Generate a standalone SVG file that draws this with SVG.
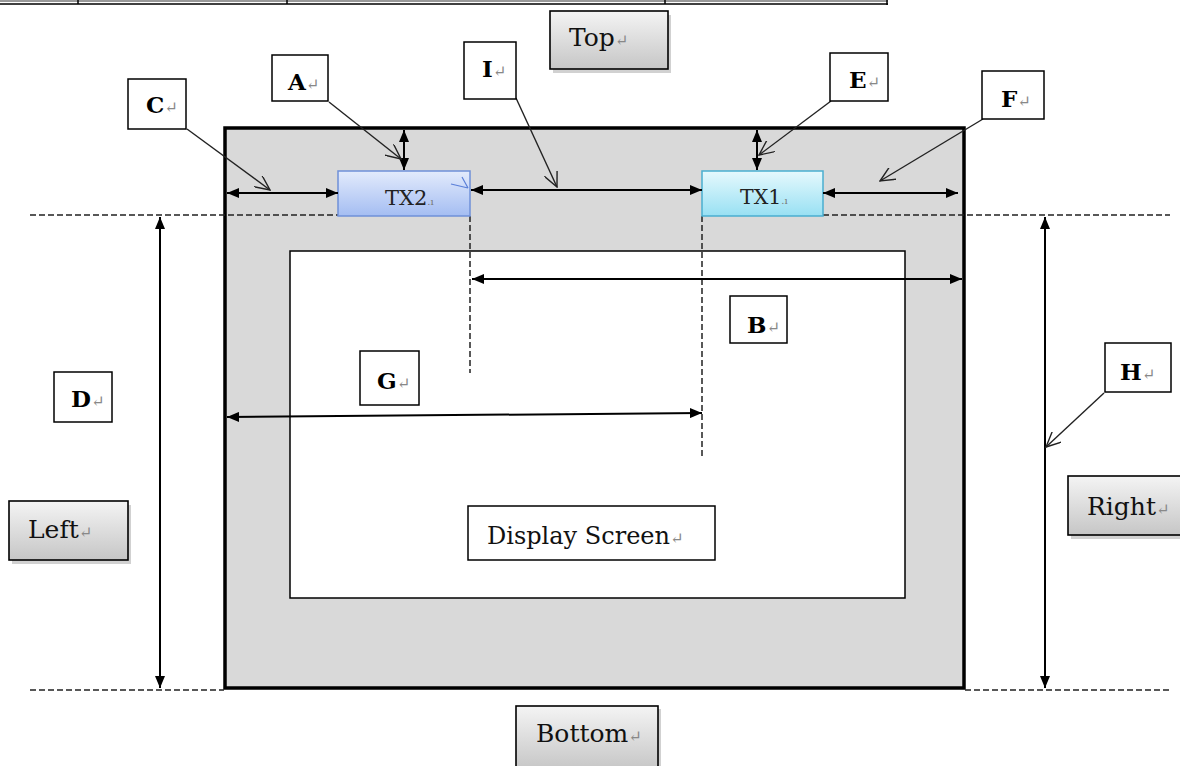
<svg xmlns="http://www.w3.org/2000/svg" width="1180" height="766" viewBox="0 0 1180 766">
<defs>
<style>
.lbl{fill:#fff;stroke:#000;stroke-width:1.5}
.lt{font-family:"DejaVu Serif","Liberation Serif",serif;font-weight:bold;font-size:23px;fill:#000}
.bt{font-family:"DejaVu Serif","Liberation Serif",serif;font-size:25px;fill:#111}
.rm{fill:#888;font-size:16px;font-weight:normal}
.btn{fill:url(#gbtn);stroke:#000;stroke-width:1.6}
.shd{fill:#000;opacity:0.18}
.dim{stroke:#000;stroke-width:2;fill:none;marker-start:url(#tri);marker-end:url(#tri)}
.call{stroke:#222;stroke-width:1.4;fill:none;marker-end:url(#open)}
.dash{stroke:#222;stroke-width:1.5;stroke-dasharray:6 3;fill:none}
</style>
<linearGradient id="gbtn" x1="0" y1="0" x2="0" y2="1">
<stop offset="0" stop-color="#f4f4f4"/><stop offset="1" stop-color="#c6c6c6"/>
</linearGradient>
<linearGradient id="gtx2" x1="0" y1="0" x2="0" y2="1">
<stop offset="0" stop-color="#e3ebfc"/><stop offset="1" stop-color="#a4bdf2"/>
</linearGradient>
<linearGradient id="gtx1" x1="0" y1="0" x2="0" y2="1">
<stop offset="0" stop-color="#e6f9fd"/><stop offset="1" stop-color="#98e0f3"/>
</linearGradient>
<marker id="tri" viewBox="0 0 12 10" refX="12" refY="5" markerWidth="12" markerHeight="10" markerUnits="userSpaceOnUse" orient="auto-start-reverse">
<path d="M0,0 L12,5 L0,10 Z" fill="#000"/>
</marker>
<marker id="open" viewBox="0 0 16 14" refX="15" refY="7" markerWidth="16" markerHeight="14" markerUnits="userSpaceOnUse" orient="auto">
<path d="M0,0 L15,7 L0,14" fill="none" stroke="#222" stroke-width="1.4"/>
</marker>
</defs>

<g id="table-fragment" stroke="#000" stroke-width="1.5" fill="none">
<line x1="0" y1="4" x2="888" y2="4"/>
<line x1="0" y1="1" x2="888" y2="1" stroke-width="0.8"/>
<line x1="78" y1="0" x2="78" y2="4"/>
<line x1="287" y1="0" x2="287" y2="4"/>
<line x1="665" y1="0" x2="665" y2="4"/>
<line x1="887" y1="0" x2="887" y2="5"/>
</g>

<g id="device">
<rect x="225" y="128" width="739" height="560" fill="#d9d9d9" stroke="#000" stroke-width="3.5"/>
</g>
<g id="display-area">
<rect x="290" y="251" width="615" height="347" fill="#fff" stroke="#000" stroke-width="1.5"/>
</g>

<g id="guides">
<line class="dash" x1="30" y1="215" x2="338" y2="215"/>
<line class="dash" x1="823" y1="215" x2="1170" y2="215"/>
<line class="dash" x1="30" y1="690" x2="224" y2="690"/>
<line class="dash" x1="965" y1="690" x2="1170" y2="690"/>
<line class="dash" x1="470" y1="216" x2="470" y2="373"/>
<line class="dash" x1="702" y1="216" x2="702" y2="458"/>
</g>

<g id="tx2">
<rect x="338" y="171" width="132" height="45" fill="url(#gtx2)" stroke="#6f90d8" stroke-width="1.5"/>
<text x="385" y="205" font-family="DejaVu Serif,Liberation Serif,serif" font-size="21" fill="#222">TX2<tspan font-size="10" fill="#777">.ı</tspan></text>
<path d="M451,184 L468,188 M462,177 L468,188" stroke="#5a7fd8" stroke-width="1.2" fill="none"/>
</g>
<g id="tx1">
<rect x="702" y="171" width="121" height="45" fill="url(#gtx1)" stroke="#4aaed0" stroke-width="1.5"/>
<text x="740" y="204" font-family="DejaVu Serif,Liberation Serif,serif" font-size="20.5" fill="#222">TX1<tspan font-size="10" fill="#777">.ı</tspan></text>
</g>

<g id="connectors">
<line class="dim" x1="227" y1="193" x2="338" y2="193"/>
<line class="dim" x1="404" y1="130" x2="404" y2="170"/>
<line class="dim" x1="471" y1="190" x2="702" y2="190"/>
<line class="dim" x1="757" y1="130" x2="757" y2="170"/>
<line class="dim" x1="823" y1="193" x2="958" y2="193"/>
<line class="dim" x1="472" y1="279" x2="962" y2="279"/>
<line class="dim" x1="227" y1="417" x2="702" y2="413"/>
<line class="dim" x1="160" y1="217" x2="160" y2="688"/>
<line class="dim" x1="1045" y1="217" x2="1045" y2="688"/>
<line class="call" x1="187" y1="129" x2="270" y2="190"/>
<line class="call" x1="329" y1="102" x2="401" y2="159"/>
<line class="call" x1="516" y1="98" x2="557" y2="187"/>
<line class="call" x1="831" y1="101" x2="759" y2="155"/>
<line class="call" x1="983" y1="119" x2="880" y2="181"/>
<line class="call" x1="1104" y1="393" x2="1046" y2="447"/>
</g>

<g id="label-C"><rect class="lbl" x="128" y="79" width="58" height="50"/><text class="lt" x="146" y="113">C<tspan class="rm">↵</tspan></text></g>
<g id="label-A"><rect class="lbl" x="272" y="55" width="56" height="46"/><text class="lt" x="288" y="90">A<tspan class="rm">↵</tspan></text></g>
<g id="label-I"><rect class="lbl" x="464" y="42" width="52" height="57"/><text class="lt" x="482" y="77">I<tspan class="rm">↵</tspan></text></g>
<g id="label-E"><rect class="lbl" x="830" y="53" width="58" height="48"/><text class="lt" x="849" y="88">E<tspan class="rm">↵</tspan></text></g>
<g id="label-F"><rect class="lbl" x="982" y="71" width="62" height="48"/><text class="lt" x="1001" y="107">F<tspan class="rm">↵</tspan></text></g>
<g id="label-B"><rect class="lbl" x="730" y="296" width="57" height="47"/><text class="lt" x="747" y="333">B<tspan class="rm">↵</tspan></text></g>
<g id="label-G"><rect class="lbl" x="360" y="351" width="59" height="54"/><text class="lt" x="377" y="389">G<tspan class="rm">↵</tspan></text></g>
<g id="label-D"><rect class="lbl" x="54" y="372" width="58" height="50"/><text class="lt" x="71" y="407">D<tspan class="rm">↵</tspan></text></g>
<g id="label-H"><rect class="lbl" x="1105" y="343" width="66" height="49"/><text class="lt" x="1120" y="380">H<tspan class="rm">↵</tspan></text></g>

<g id="btn-top"><rect class="shd" x="553" y="15" width="118" height="58"/><rect class="btn" x="550" y="11" width="118" height="58"/><text class="bt" x="569" y="46" font-size="26">Top<tspan class="rm">↵</tspan></text></g>
<g id="btn-left"><rect class="shd" x="12" y="505" width="119" height="59"/><rect class="btn" x="9" y="501" width="119" height="59"/><text class="bt" x="28" y="538">Left<tspan class="rm">↵</tspan></text></g>
<g id="btn-right"><rect class="shd" x="1071" y="480" width="112" height="59"/><rect class="btn" x="1068" y="476" width="114" height="59"/><text class="bt" x="1087" y="515">Right<tspan class="rm">↵</tspan></text></g>
<g id="btn-bottom"><rect class="shd" x="519" y="709" width="142" height="62"/><rect class="btn" x="516" y="706" width="142" height="64"/><text class="bt" x="536" y="742">Bottom<tspan class="rm">↵</tspan></text></g>

<g id="display-screen"><rect x="468" y="506" width="247" height="54" fill="#fff" stroke="#000" stroke-width="1.5"/><text x="487" y="544" font-family="DejaVu Serif,Liberation Serif,serif" font-size="24" fill="#111">Display Screen<tspan class="rm">↵</tspan></text></g>
</svg>
